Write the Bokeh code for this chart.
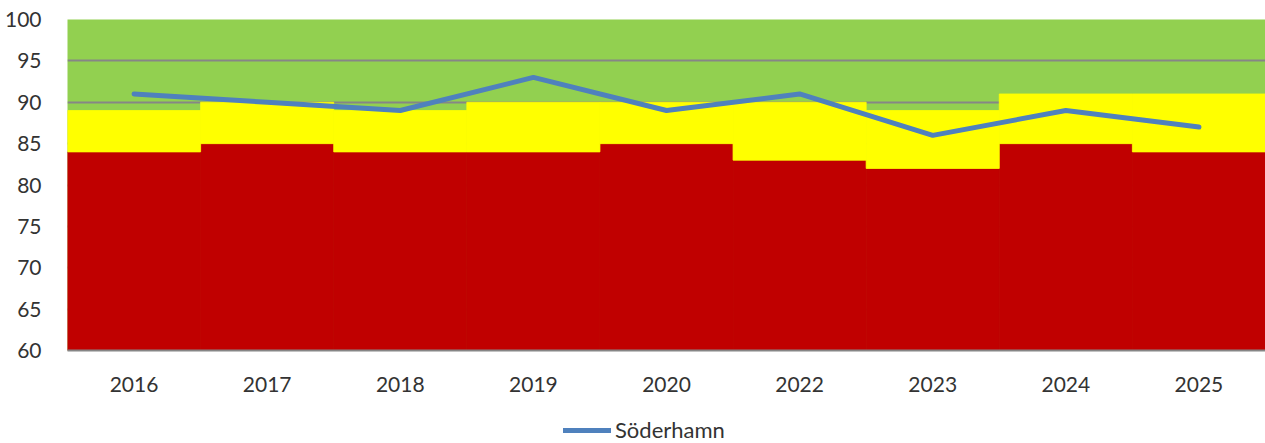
from bokeh.plotting import figure
from bokeh.layouts import column
from bokeh.models import FactorRange, Range1d, Legend, LegendItem, ColumnDataSource, SingleIntervalTicker
from bokeh.embed import file_html
from bokeh.resources import INLINE

years = ["2016", "2017", "2018", "2019", "2020", "2022", "2023", "2024", "2025"]
red_top = [84, 85, 84, 84, 85, 83, 82, 85, 84]
yellow_top = [89, 90, 89, 90, 90, 90, 89, 91, 91]
soderhamn = [91, 90, 89, 93, 89, 91, 86, 89, 87]
series_name = "Söderhamn"
y_base = 60
y_max = 100

FONT = "Lato"
LINE_COLOR = "#4F81BD"

p = figure(x_range=FactorRange(*years, range_padding=0), y_range=Range1d(y_base, y_max),
           frame_width=1198, frame_height=331, output_backend="svg", toolbar_location=None,
           min_border_left=67, min_border_right=0, min_border_top=19, min_border_bottom=50)

src = ColumnDataSource(dict(x=years, red=red_top, yel=yellow_top, base=[y_base] * len(years), v=soderhamn))

p.background_fill_color = "#92D050"
p.border_fill_color = "white"
p.outline_line_color = None

p.vbar(x="x", bottom="base", top="red", width=1.0, source=src, fill_color="#C00000",
       line_color="#C00000", line_width=0.8)
p.vbar(x="x", bottom="red", top="yel", width=1.0, source=src, fill_color="#FFFF00",
       line_color="#FFFF00", line_width=0.8)
p.line(x="x", y="v", source=src, line_color=LINE_COLOR, line_width=5, line_cap="round", line_join="round")

p.xgrid.grid_line_color = None
p.ygrid.grid_line_color = "#868686"
p.ygrid.grid_line_width = 2

p.yaxis.ticker = SingleIntervalTicker(interval=5)
p.yaxis.axis_line_color = None
p.yaxis.major_tick_line_color = None
p.yaxis.minor_tick_line_color = None
p.yaxis.major_label_text_font = FONT
p.yaxis.major_label_text_font_size = "21px"
p.yaxis.major_label_text_color = "#333333"
p.yaxis.major_label_standoff = 20

p.xaxis.axis_line_color = "#868686"
p.xaxis.axis_line_width = 2
p.xaxis.major_tick_line_color = None
p.xaxis.minor_tick_line_color = None
p.xaxis.major_label_text_font = FONT
p.xaxis.major_label_text_font_size = "21px"
p.xaxis.major_label_text_color = "#333333"
p.xaxis.major_label_standoff = 20

# legend strip below the chart (its frame is aligned with the chart's frame)
p2 = figure(width=1265, height=43, x_range=Range1d(0, 1), y_range=Range1d(0, 1),
            x_axis_type=None, y_axis_type=None, output_backend="svg", toolbar_location=None,
            min_border=0)
p2.outline_line_color = None
p2.grid.grid_line_color = None
# off-range stand-in line, used only as the legend's swatch
ln = p2.line(x=[5, 6], y=[5, 5], line_color=LINE_COLOR, line_width=5, line_cap="round")
legend = Legend(items=[LegendItem(label=series_name, renderers=[ln])],
                orientation="horizontal", location=(496, 0),
                label_text_font=FONT, label_text_font_size="22px", label_text_color="#333333",
                border_line_color=None, background_fill_alpha=0, glyph_width=48, label_standoff=4,
                margin=0, padding=0, spacing=0)
p2.add_layout(legend, "center")

open("out.html", "w").write(file_html(column(p, p2, spacing=0), INLINE))
